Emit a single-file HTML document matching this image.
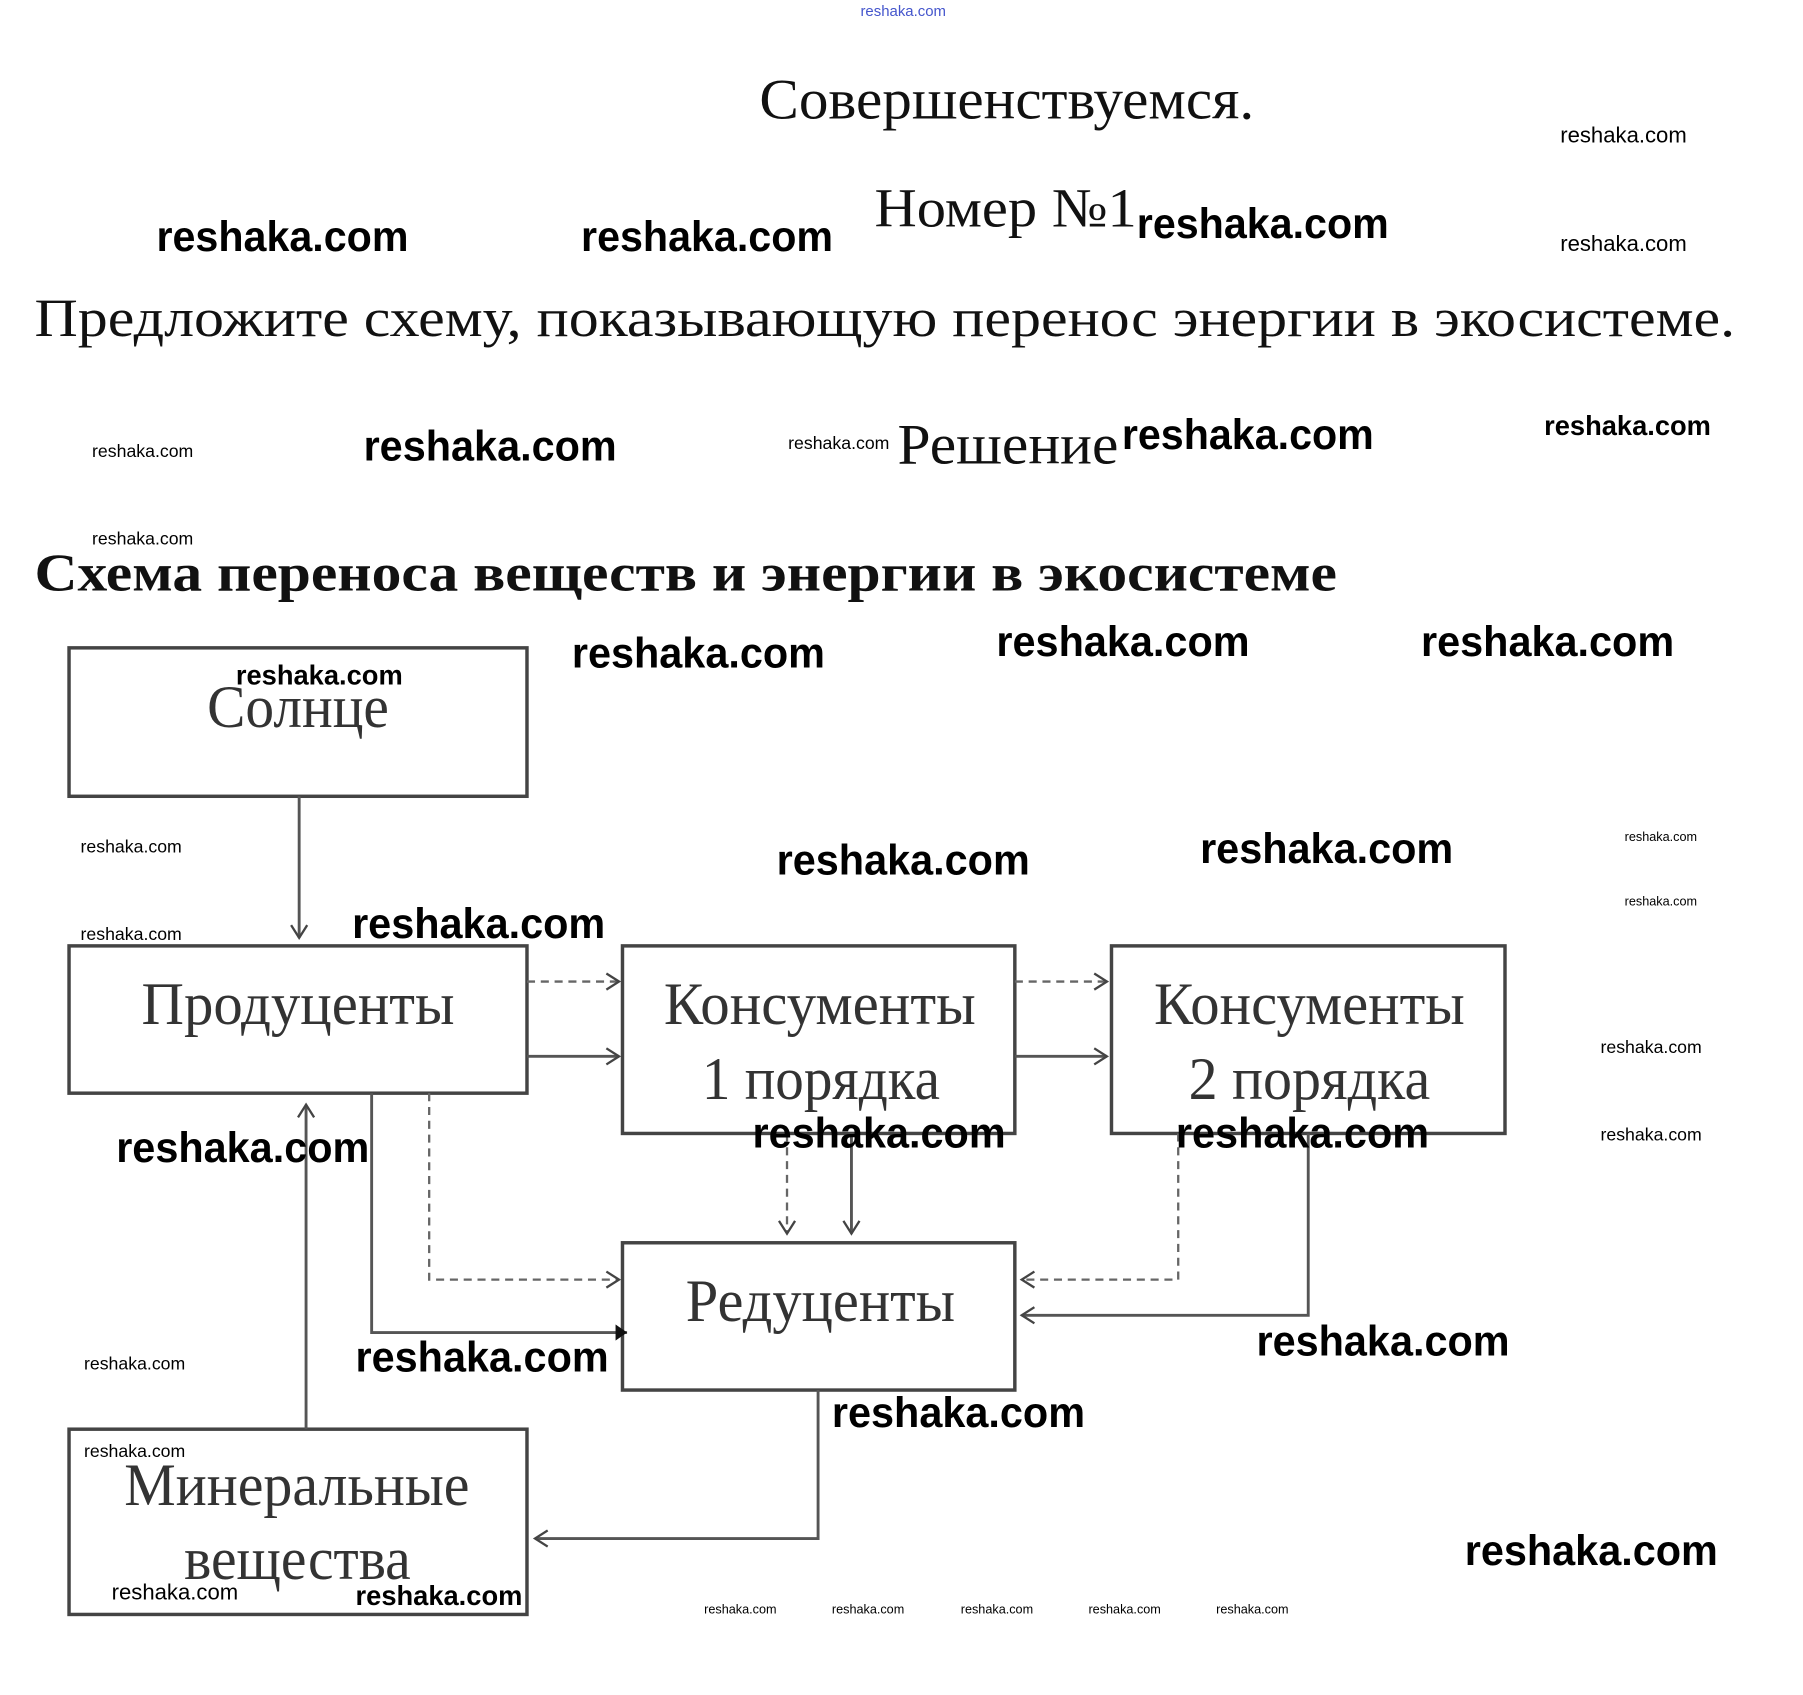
<!DOCTYPE html>
<html><head><meta charset="utf-8"><style>html,body{margin:0;padding:0;background:#fff}svg{display:block}</style></head><body>
<svg width="1803" height="1695" viewBox="0 0 1567 1473" preserveAspectRatio="none" xmlns="http://www.w3.org/2000/svg">
<defs>
<marker id="v" markerWidth="14" markerHeight="16" refX="12" refY="8" orient="auto" markerUnits="userSpaceOnUse"><path d="M1,1 L12,8 L1,15" fill="none" stroke="#444" stroke-width="2"/></marker>
<marker id="f" markerWidth="12" markerHeight="14" refX="10" refY="7" orient="auto" markerUnits="userSpaceOnUse"><path d="M0,0 L10,7 L0,14 Z" fill="#111"/></marker>
</defs>
<g font-family="Liberation Serif, serif" fill="#111">
<text x="660" y="103" font-size="50" textLength="430" lengthAdjust="spacingAndGlyphs">Совершенствуемся.</text>
<text x="760" y="197" font-size="48" textLength="228" lengthAdjust="spacingAndGlyphs">Номер №1</text>
<text x="30" y="292" font-size="47" textLength="1478" lengthAdjust="spacingAndGlyphs">Предложите схему, показывающую перенос энергии в экосистеме.</text>
<text x="780" y="403" font-size="50" textLength="192" lengthAdjust="spacingAndGlyphs">Решение</text>
<text x="30" y="513" font-size="46" font-weight="bold" textLength="1132" lengthAdjust="spacingAndGlyphs">Схема переноса веществ и энергии в экосистеме</text>
</g>
<text x="785" y="14" font-size="13" fill="#4455cc" text-anchor="middle" font-family="Liberation Sans, sans-serif">reshaka.com</text>
<g fill="none" stroke="#444" stroke-width="3">
<rect x="60" y="563" width="398" height="129"/>
<rect x="60" y="822" width="398" height="128"/>
<rect x="541" y="822" width="341" height="163"/>
<rect x="966" y="822" width="342" height="163"/>
<rect x="541" y="1080" width="341" height="128"/>
<rect x="60" y="1242" width="398" height="161"/>
</g>
<g fill="none" stroke="#555" stroke-width="2.5">
<line x1="260" y1="692" x2="260" y2="815" marker-end="url(#v)"/>
<line x1="458" y1="918" x2="538" y2="918" marker-end="url(#v)"/>
<line x1="882" y1="918" x2="962" y2="918" marker-end="url(#v)"/>
<polyline points="323,950 323,1158 545,1158" marker-end="url(#f)"/>
<line x1="740" y1="985" x2="740" y2="1072" marker-end="url(#v)"/>
<polyline points="1137,985 1137,1143 888,1143" marker-end="url(#v)"/>
<polyline points="711,1208 711,1337 465,1337" marker-end="url(#v)"/>
<line x1="266" y1="1242" x2="266" y2="960" marker-end="url(#v)"/>
</g>
<g fill="none" stroke="#666" stroke-width="2" stroke-dasharray="7,5">
<line x1="458" y1="853" x2="538" y2="853" marker-end="url(#v)"/>
<line x1="882" y1="853" x2="962" y2="853" marker-end="url(#v)"/>
<polyline points="373,950 373,1112 538,1112" marker-end="url(#v)"/>
<line x1="684" y1="985" x2="684" y2="1072" marker-end="url(#v)"/>
<polyline points="1024,985 1024,1112 888,1112" marker-end="url(#v)"/>
</g>
<g font-family="Liberation Serif, serif" fill="#333" font-size="52">
<text x="180" y="632" textLength="158" lengthAdjust="spacingAndGlyphs">Солнце</text>
<text x="123" y="890" textLength="272" lengthAdjust="spacingAndGlyphs">Продуценты</text>
<text x="577" y="890" textLength="271" lengthAdjust="spacingAndGlyphs">Консументы</text>
<text x="610" y="955" textLength="207" lengthAdjust="spacingAndGlyphs">1 порядка</text>
<text x="1003" y="890" textLength="270" lengthAdjust="spacingAndGlyphs">Консументы</text>
<text x="1033" y="955" textLength="210" lengthAdjust="spacingAndGlyphs">2 порядка</text>
<text x="596" y="1148" textLength="234" lengthAdjust="spacingAndGlyphs">Редуценты</text>
<text x="108" y="1308" textLength="300" lengthAdjust="spacingAndGlyphs">Минеральные</text>
<text x="160" y="1372" textLength="197" lengthAdjust="spacingAndGlyphs">вещества</text>
</g>
<g font-family="Liberation Sans, sans-serif" fill="#000">
<g font-size="37" font-weight="bold">
<text x="136" y="218" textLength="219" lengthAdjust="spacingAndGlyphs">reshaka.com</text><text x="505" y="218" textLength="219" lengthAdjust="spacingAndGlyphs">reshaka.com</text><text x="988" y="207" textLength="219" lengthAdjust="spacingAndGlyphs">reshaka.com</text>
<text x="316" y="400" textLength="220" lengthAdjust="spacingAndGlyphs">reshaka.com</text><text x="975" y="390" textLength="219" lengthAdjust="spacingAndGlyphs">reshaka.com</text>
<text x="497" y="580" textLength="220" lengthAdjust="spacingAndGlyphs">reshaka.com</text><text x="866" y="570" textLength="220" lengthAdjust="spacingAndGlyphs">reshaka.com</text><text x="1235" y="570" textLength="220" lengthAdjust="spacingAndGlyphs">reshaka.com</text>
<text x="675" y="760" textLength="220" lengthAdjust="spacingAndGlyphs">reshaka.com</text><text x="1043" y="750" textLength="220" lengthAdjust="spacingAndGlyphs">reshaka.com</text><text x="306" y="815" textLength="220" lengthAdjust="spacingAndGlyphs">reshaka.com</text>
<text x="101" y="1010" textLength="220" lengthAdjust="spacingAndGlyphs">reshaka.com</text><text x="654" y="997" textLength="220" lengthAdjust="spacingAndGlyphs">reshaka.com</text><text x="1022" y="997" textLength="220" lengthAdjust="spacingAndGlyphs">reshaka.com</text>
<text x="309" y="1192" textLength="220" lengthAdjust="spacingAndGlyphs">reshaka.com</text><text x="1092" y="1178" textLength="220" lengthAdjust="spacingAndGlyphs">reshaka.com</text><text x="723" y="1240" textLength="220" lengthAdjust="spacingAndGlyphs">reshaka.com</text>
<text x="1273" y="1360" textLength="220" lengthAdjust="spacingAndGlyphs">reshaka.com</text>
</g>
<g font-size="24" font-weight="bold"><text x="1342" y="378" textLength="145" lengthAdjust="spacingAndGlyphs">reshaka.com</text><text x="205" y="595" textLength="145" lengthAdjust="spacingAndGlyphs">reshaka.com</text><text x="309" y="1395" textLength="145" lengthAdjust="spacingAndGlyphs">reshaka.com</text></g>
<g font-size="19"><text x="1356" y="124" textLength="110" lengthAdjust="spacingAndGlyphs">reshaka.com</text><text x="1356" y="218" textLength="110" lengthAdjust="spacingAndGlyphs">reshaka.com</text><text x="97" y="1390" textLength="110" lengthAdjust="spacingAndGlyphs">reshaka.com</text></g>
<g font-size="15">
<text x="80" y="397" textLength="88" lengthAdjust="spacingAndGlyphs">reshaka.com</text><text x="685" y="390" textLength="88" lengthAdjust="spacingAndGlyphs">reshaka.com</text><text x="80" y="473" textLength="88" lengthAdjust="spacingAndGlyphs">reshaka.com</text>
<text x="70" y="741" textLength="88" lengthAdjust="spacingAndGlyphs">reshaka.com</text><text x="70" y="817" textLength="88" lengthAdjust="spacingAndGlyphs">reshaka.com</text>
<text x="1391" y="915" textLength="88" lengthAdjust="spacingAndGlyphs">reshaka.com</text><text x="1391" y="991" textLength="88" lengthAdjust="spacingAndGlyphs">reshaka.com</text>
<text x="73" y="1190" textLength="88" lengthAdjust="spacingAndGlyphs">reshaka.com</text><text x="73" y="1266" textLength="88" lengthAdjust="spacingAndGlyphs">reshaka.com</text>
</g>
<g font-size="11">
<text x="1412" y="731">reshaka.com</text><text x="1412" y="787">reshaka.com</text>
<text x="612" y="1402">reshaka.com</text><text x="723" y="1402">reshaka.com</text><text x="835" y="1402">reshaka.com</text><text x="946" y="1402">reshaka.com</text><text x="1057" y="1402">reshaka.com</text>
</g>
</g>
</svg>
</body></html>
